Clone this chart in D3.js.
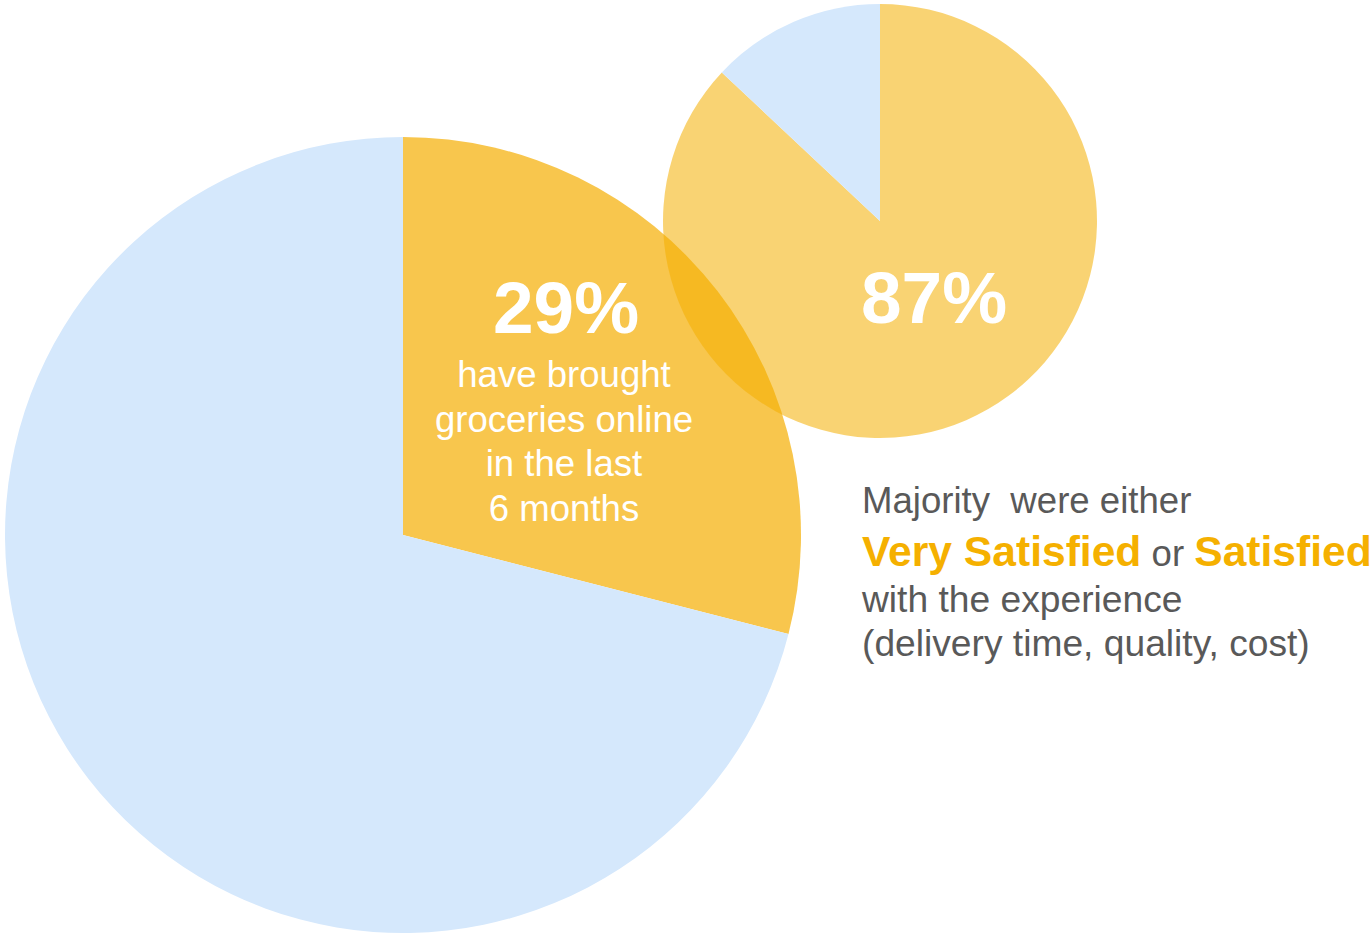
<!DOCTYPE html>
<html>
<head>
<meta charset="utf-8">
<script src="https://cdn.jsdelivr.net/npm/d3@7"></script>
<style>
  body { margin: 0; background: #fff; }
  svg { display: block; font-family: "Liberation Sans", Arial, sans-serif; }
</style>
</head>
<body>
<div id="chart"></div>
<script>
const width = 1372;
const height = 937;

// data
const bigLabels = ["Bought groceries online", "Did not"];
const bigValues = [29, 71];
const bigColors = ["#f8c64d", "#d5e8fc"];

const smallLabels = ["Satisfied", "Not satisfied"];
const smallValues = [87, 13];
const smallColors = ["#f4af00", "#d5e8fc"];
const smallOpacity = [0.55, 1];

const bigText = ["have brought", "groceries online", "in the last", "6 months"];
const noteLines = ["with the experience", "(delivery time, quality, cost)"];

const svg = d3.select("#chart").append("svg")
    .attr("width", width)
    .attr("height", height);

const pie = d3.pie().sort(null).value(d => d.v);

// big pie
const bigR = 398;
const bigG = svg.append("g").attr("transform", "translate(403,535)");
const bigArc = d3.arc().innerRadius(0).outerRadius(bigR);
bigG.selectAll("path")
  .data(pie(bigValues.map((v, i) => ({v, k: bigLabels[i], c: bigColors[i]}))))
  .join("path")
    .attr("d", bigArc)
    .attr("fill", d => d.data.c);

// small pie, partly transparent so the overlap darkens
const smallR = 217;
const smallG = svg.append("g").attr("transform", "translate(880,221)");
const smallArc = d3.arc().innerRadius(0).outerRadius(smallR);
smallG.selectAll("path")
  .data(pie(smallValues.map((v, i) => ({v, k: smallLabels[i], c: smallColors[i], o: smallOpacity[i]}))))
  .join("path")
    .attr("d", smallArc)
    .attr("fill", d => d.data.c)
    .attr("fill-opacity", d => d.data.o);

// labels inside the pies
svg.append("text")
    .attr("x", 566).attr("y", 333)
    .attr("text-anchor", "middle")
    .attr("font-size", 73).attr("font-weight", "bold")
    .attr("fill", "#fff")
    .text(bigValues[0] + "%");

svg.append("g")
    .attr("fill", "#fff")
    .attr("font-size", 36.6)
    .attr("text-anchor", "middle")
  .selectAll("text")
  .data(bigText)
  .join("text")
    .attr("x", 564)
    .attr("y", (d, i) => 387 + i * 44.7)
    .text(d => d);

svg.append("text")
    .attr("x", 934).attr("y", 323)
    .attr("text-anchor", "middle")
    .attr("font-size", 73).attr("font-weight", "bold")
    .attr("fill", "#fff")
    .text(smallValues[0] + "%");

// note on the right
const note = svg.append("g").attr("fill", "#595959");

note.append("text")
    .attr("x", 862).attr("y", 513)
    .attr("font-size", 36.6)
    .attr("xml:space", "preserve")
    .text("Majority  were either");

const t2 = note.append("text")
    .attr("x", 862).attr("y", 566)
    .attr("font-size", 36.6);
t2.append("tspan").attr("font-size", 42.6).attr("font-weight", "bold").attr("fill", "#f5b000").text("Very Satisfied");
t2.append("tspan").text(" or ");
t2.append("tspan").attr("font-size", 42.6).attr("font-weight", "bold").attr("fill", "#f5b000").text("Satisfied");

note.selectAll("text.line")
  .data(noteLines)
  .join("text")
    .attr("class", "line")
    .attr("x", 862)
    .attr("y", (d, i) => 612 + i * 44)
    .attr("font-size", 37.2)
    .text(d => d);
</script>
</body>
</html>
